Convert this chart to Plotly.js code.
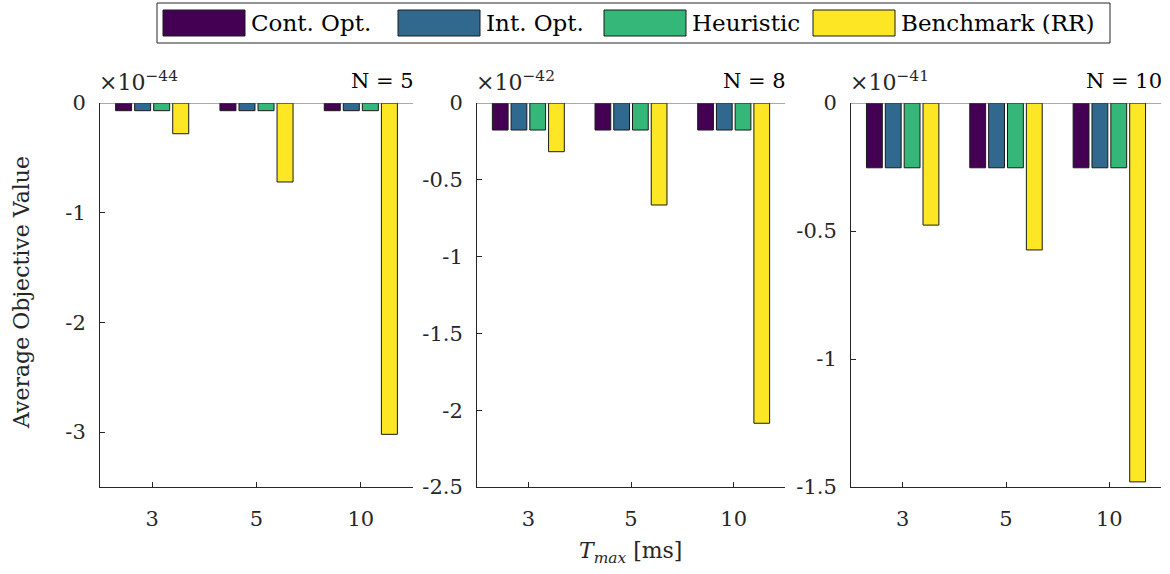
<!DOCTYPE html>
<html><head><meta charset="utf-8">
<script src="https://cdn.plot.ly/plotly-3.0.1.min.js"></script>
<style>html,body{margin:0;padding:0;background:#fff}#chart{width:1170px;height:574px}</style>
</head><body><div id="chart"></div>
<script>
const tmaxLabels = ['3', '5', '10'];
const seriesNames = ['Cont. Opt.', 'Int. Opt.', 'Heuristic', 'Benchmark (RR)'];
const seriesColors = ['#440154', '#31688e', '#35b779', '#fde725'];
const panelTitles = ['N = 5', 'N = 8', 'N = 10'];
const panelExponents = ['−44', '−42', '−41'];

// values shown in units of 10^exponent for each panel
const n5Cont = [-0.07, -0.07, -0.07];
const n5Int = [-0.07, -0.07, -0.07];
const n5Heur = [-0.07, -0.07, -0.07];
const n5Bench = [-0.28, -0.72, -3.02];

const n8Cont = [-0.176, -0.176, -0.176];
const n8Int = [-0.176, -0.176, -0.176];
const n8Heur = [-0.176, -0.176, -0.176];
const n8Bench = [-0.317, -0.664, -2.085];

const n10Cont = [-0.253, -0.253, -0.253];
const n10Int = [-0.253, -0.253, -0.253];
const n10Heur = [-0.253, -0.253, -0.253];
const n10Bench = [-0.477, -0.574, -1.48];

const yTickVals1 = [0, -1, -2, -3];
const yTickText1 = ['0', '-1', '-2', '-3'];
const yTickVals2 = [0, -0.5, -1, -1.5, -2, -2.5];
const yTickText2 = ['0', '-0.5', '-1', '-1.5', '-2', '-2.5'];
const yTickVals3 = [0, -0.5, -1, -1.5];
const yTickText3 = ['0', '-0.5', '-1', '-1.5'];
const yRanges = [[-3.5, 0], [-2.5, 0], [-1.5, 0]];

const panels = [
  [n5Cont, n5Int, n5Heur, n5Bench],
  [n8Cont, n8Int, n8Heur, n8Bench],
  [n10Cont, n10Int, n10Heur, n10Bench]
];
const yTicks = [[yTickVals1, yTickText1], [yTickVals2, yTickText2], [yTickVals3, yTickText3]];

const W = 1170, H = 574;
const px = v => v / W, py = v => 1 - v / H;
const xDomains = [[px(100), px(413)], [px(477), px(785)], [px(851), px(1161)]];
const yDomain = [py(487), py(103)];

const FONT = 'DejaVu Serif, Liberation Serif, serif';
const AX = '#262626';

const traces = [];
panels.forEach((series, p) => {
  series.forEach((vals, s) => {
    traces.push({
      type: 'bar',
      x: tmaxLabels,
      y: vals,
      name: seriesNames[s],
      showlegend: false,
      xaxis: p === 0 ? 'x' : 'x' + (p + 1),
      yaxis: p === 0 ? 'y' : 'y' + (p + 1),
      marker: {color: seriesColors[s], line: {color: '#1a1a1a', width: 1}},
      hoverinfo: 'skip'
    });
  });
});

const layout = {
  width: W, height: H,
  margin: {l: 0, r: 0, t: 0, b: 0},
  paper_bgcolor: '#fff', plot_bgcolor: '#fff',
  barmode: 'group', bargap: 0.27, bargroupgap: 0.16,
  font: {family: FONT, size: 20, color: AX},
  shapes: [], annotations: []
};

for (let p = 0; p < 3; p++) {
  const xs = p === 0 ? '' : String(p + 1);
  layout['xaxis' + xs] = {
    domain: xDomains[p], anchor: 'y' + xs, type: 'category',
    range: [-0.5, 2.5], showline: true, linecolor: AX, linewidth: 1,
    ticks: 'inside', ticklen: 5, tickcolor: AX, tickwidth: 1,
    showgrid: false, zeroline: false, fixedrange: true,
    tickfont: {family: FONT, size: 21, color: AX}, ticklabelstandoff: 13
  };
  layout['yaxis' + xs] = {
    domain: yDomain, anchor: 'x' + xs, range: yRanges[p],
    tickvals: yTicks[p][0], ticktext: yTicks[p][1],
    showline: true, linecolor: AX, linewidth: 1,
    ticks: 'inside', ticklen: 5, tickcolor: AX, tickwidth: 1,
    showgrid: false, zeroline: false, fixedrange: true,
    tickfont: {family: FONT, size: 21, color: AX}, ticklabelstandoff: 9
  };
  // baseline at zero
  layout.shapes.push({type: 'line', xref: 'x' + xs + ' domain', yref: 'y' + xs,
    x0: 0, x1: 1, y0: 0, y1: 0, line: {color: '#555', width: 1}});
  layout.annotations.push({xref: 'paper', yref: 'paper', x: xDomains[p][0] - px(3), y: py(81),
    xanchor: 'left', yanchor: 'middle', showarrow: false,
    text: '×10<sup>' + panelExponents[p] + '</sup>', font: {family: FONT, size: 22, color: AX}});
  layout.annotations.push({xref: 'paper', yref: 'paper', x: xDomains[p][1] + px(3), y: py(81),
    xanchor: 'right', yanchor: 'middle', showarrow: false,
    text: panelTitles[p], font: {family: FONT, size: 21, color: '#000'}});
}

// axis titles
layout.annotations.push({xref: 'paper', yref: 'paper', x: px(630), y: py(552),
  xanchor: 'center', yanchor: 'middle', showarrow: false,
  text: '<i>T</i><sub><i>max</i></sub> [ms]', font: {family: FONT, size: 22, color: AX}});
layout.annotations.push({xref: 'paper', yref: 'paper', x: px(21), y: py(293),
  xanchor: 'center', yanchor: 'middle', showarrow: false, textangle: -90,
  text: 'Average Objective Value', font: {family: FONT, size: 22, color: AX}});

// legend (drawn manually to match wide patches)
layout.shapes.push({type: 'rect', xref: 'paper', yref: 'paper',
  x0: px(157), x1: px(1110), y0: py(43), y1: py(3), line: {color: '#262626', width: 1}, fillcolor: '#fff', layer: 'below'});
const patchX = [163, 398, 604, 813];
patchX.forEach((x0, i) => {
  layout.shapes.push({type: 'rect', xref: 'paper', yref: 'paper',
    x0: px(x0), x1: px(x0 + 82), y0: py(36), y1: py(10),
    fillcolor: seriesColors[i], line: {color: '#1a1a1a', width: 1}});
  layout.annotations.push({xref: 'paper', yref: 'paper', x: px(x0 + 86), y: py(23),
    xanchor: 'left', yanchor: 'middle', showarrow: false,
    text: seriesNames[i], font: {family: FONT, size: 23, color: '#000'}});
});

Plotly.newPlot('chart', traces, layout, {staticPlot: true, displayModeBar: false});
</script></body></html>
